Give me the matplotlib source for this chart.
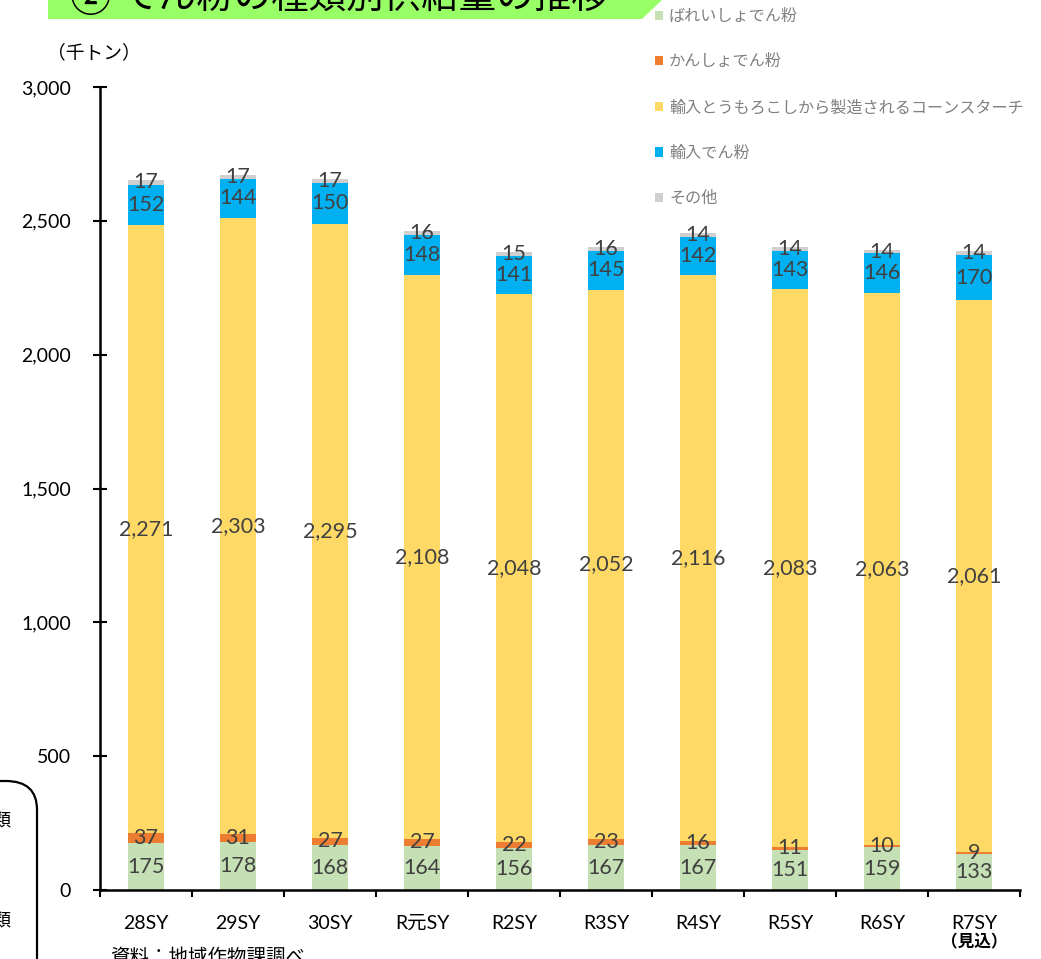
import matplotlib
matplotlib.use("Agg")
import matplotlib.pyplot as plt
import matplotlib.patches as patches
import numpy as np

plt.rcParams['font.family'] = ['Lato', 'Noto Sans CJK JP', 'DejaVu Sans']

# data (thousand tons)
years = ['28SY', '29SY', '30SY', 'R元SY', 'R2SY', 'R3SY', 'R4SY', 'R5SY', 'R6SY', 'R7SY']
potato = [175, 178, 168, 164, 156, 167, 167, 151, 159, 133]
sweet_potato = [37, 31, 27, 27, 22, 23, 16, 11, 10, 9]
cornstarch = [2271, 2303, 2295, 2108, 2048, 2052, 2116, 2083, 2063, 2061]
imported = [152, 144, 150, 148, 141, 145, 142, 143, 146, 170]
other = [17, 17, 17, 16, 15, 16, 14, 14, 14, 14]

series_names = ['ばれいしょでん粉', 'かんしょでん粉',
                '輸入とうもろこしから製造されるコーンスターチ', '輸入でん粉', 'その他']
series = [potato, sweet_potato, cornstarch, imported, other]
colors = ['#C5E0B4', '#ED7D31', '#FFD966', '#00B0F0', '#D0CECE']

W, H = 1041, 959
fig = plt.figure(figsize=(W / 100, H / 100), dpi=100)
ax = fig.add_axes([100 / W, 1 - 890 / H, 920 / W, 803 / H])

x = np.arange(len(years))
bottom = np.zeros(len(years))
containers = []
for name, vals, c in zip(series_names, series, colors):
    b = ax.bar(x, vals, width=0.4, bottom=bottom, color=c, label=name, zorder=2)
    ax.bar_label(b, labels=[f'{v:,}' for v in vals], label_type='center',
                 fontsize=15.5, color='#404040')
    containers.append(b)
    bottom += np.array(vals)

ax.set_xlim(-0.5, len(years) - 0.5)
ax.set_ylim(0, 3000)
ax.set_yticks(np.arange(0, 3001, 500))
ax.set_yticklabels([f'{v:,}' for v in range(0, 3001, 500)])

# category boundaries carry the ticks, labels sit in between
ax.set_xticks(np.arange(-0.5, len(years)), minor=False)
ax.set_xticklabels([])
ax.set_xticks(x, minor=True)
ax.set_xticklabels(years, minor=True)
ax.tick_params(axis='x', which='major', direction='out', length=5, width=1.5)
ax.tick_params(axis='x', which='minor', length=0, pad=18, labelsize=14)
ax.tick_params(axis='y', direction='inout', length=10, width=1.5, pad=16, labelsize=14)

for s in ['top', 'right']:
    ax.spines[s].set_visible(False)
for s in ['left', 'bottom']:
    ax.spines[s].set_linewidth(1.8)

ax.text(x[-1], -0.065, '（見込）', transform=ax.get_xaxis_transform(),
        ha='center', va='center', fontsize=12, fontweight='bold')

fig.text(47 / W, 1 - 52 / H, '（千トン）', ha='left', va='center', fontsize=13.5)

# legend
fig.legend(handles=containers, loc='upper left',
           bbox_to_anchor=(655 / W, 1 - 9 / H), frameon=False,
           fontsize=11.6, labelcolor='#808080', labelspacing=1.88,
           handlelength=0.52, handleheight=0.52, handletextpad=0.35,
           borderpad=0, borderaxespad=0)

# title banner (cut off by the top of the picture)
banner = patches.Polygon([(48 / W, 1.0), (662 / W, 1.0), (642 / W, 1 - 19 / H), (48 / W, 1 - 19 / H)],
                         closed=True, transform=fig.transFigure, facecolor='#99FF66',
                         edgecolor='none', zorder=0)
fig.patches.append(banner)
fig.text(70 / W, 1 - 8 / H, '② でん粉の種類別供給量の推移', ha='left', va='baseline',
         fontsize=27, color='black')

# rounded box at the left edge (cut off)
box = patches.FancyBboxPatch((-60 / W, -60 / H), 97 / W, (960 - 782 + 60) / H,
                             boxstyle='round,pad=0,rounding_size=0.03',
                             transform=fig.transFigure, facecolor='none',
                             edgecolor='black', linewidth=1.6)
fig.patches.append(box)
fig.text(12 / W, 1 - 820 / H, '種類', ha='right', va='center', fontsize=13)
fig.text(12 / W, 1 - 920 / H, '種類', ha='right', va='center', fontsize=13)

fig.text(110 / W, 1 - 947 / H, '資料：地域作物課調べ', ha='left', va='top', fontsize=14)

fig.savefig('out.png', dpi=100)
